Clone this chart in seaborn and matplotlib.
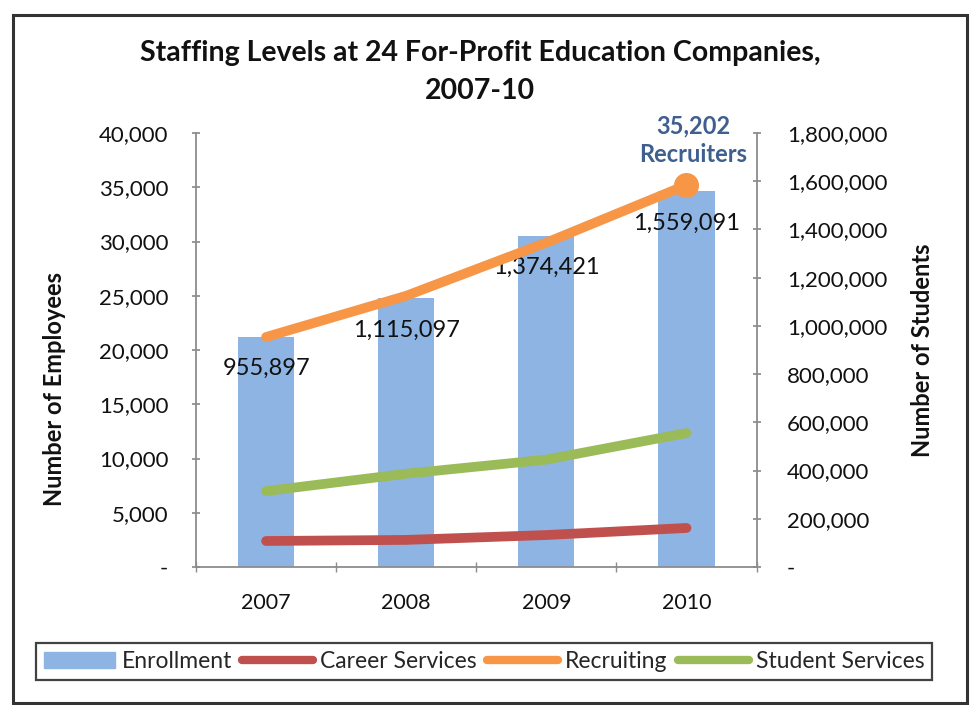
import matplotlib
matplotlib.use("Agg")
import matplotlib.pyplot as plt
import matplotlib.patches as mpatches
from matplotlib.lines import Line2D
from matplotlib.ticker import FuncFormatter, FixedLocator
import seaborn as sns
import pandas as pd
import numpy as np

years = ["2007", "2008", "2009", "2010"]
enrollment = [955897, 1115097, 1374421, 1559091]
career_services = [2400, 2500, 2950, 3600]
recruiting = [21200, 25000, 29900, 35202]
student_services = [7000, 8600, 9900, 12350]

title = "Staffing Levels at 24 For-Profit Education Companies,\n2007-10"

sns.set_theme(style="white")
plt.rcParams['font.family'] = ['Lato', 'DejaVu Sans']

C_BAR = "#8DB4E2"
C_CAR = "#C0504D"
C_REC = "#F79646"
C_STU = "#9BBB59"
C_SPINE = "#8C8C8C"
C_TXT = "#111111"

fig = plt.figure(figsize=(9.8, 7.05), dpi=100)
ax = fig.add_axes([0.2, 0.1957, 0.572, 0.6156])
ax2 = ax.twinx()

df_bar = pd.DataFrame({"year": years, "enrollment": enrollment})
sns.barplot(data=df_bar, x="year", y="enrollment", ax=ax2, color=C_BAR,
            saturation=1, width=0.4, edgecolor="none")

xpos = np.arange(len(years))
for vals, col in [(career_services, C_CAR), (recruiting, C_REC), (student_services, C_STU)]:
    sns.lineplot(x=xpos, y=vals, ax=ax, color=col, linewidth=7,
                 solid_capstyle="round", legend=False)
ax.plot([xpos[-1]], [recruiting[-1]], marker="o", markersize=17, color=C_REC,
        linestyle="none")

ax.set_zorder(ax2.get_zorder() + 1)
ax.patch.set_visible(False)

ax.set_xlim(-0.5, 3.5)
ax.set_ylim(0, 40000)
ax2.set_ylim(0, 1800000)

fmt = FuncFormatter(lambda v, p: "-" if v == 0 else f"{int(v):,}")
ax.yaxis.set_major_locator(FixedLocator(np.arange(0, 40001, 5000)))
ax.yaxis.set_major_formatter(fmt)
ax2.yaxis.set_major_locator(FixedLocator(np.arange(0, 1800001, 200000)))
ax2.yaxis.set_major_formatter(fmt)

ax.set_xticks(xpos)
ax.set_xticklabels(years)
ax.set_xticks([-0.5, 0.5, 1.5, 2.5, 3.5], minor=True)

for a in (ax, ax2):
    a.spines["top"].set_visible(False)
    for s in ("left", "right", "bottom"):
        a.spines[s].set_color(C_SPINE)
        a.spines[s].set_linewidth(1.3)
ax.spines["right"].set_visible(False)
ax2.spines["left"].set_visible(False)
ax2.spines["bottom"].set_visible(False)

ax.tick_params(axis="y", which="major", direction="inout", length=6, color=C_SPINE,
               labelsize=16, pad=17, left=True, labelcolor=C_TXT)
ax.tick_params(axis="x", which="major", length=0, labelsize=15.5, pad=19,
               labelcolor=C_TXT)
ax.tick_params(axis="x", which="minor", direction="inout", length=7, color=C_SPINE,
               bottom=True)
ax2.tick_params(axis="y", direction="inout", length=6, color=C_SPINE,
                labelsize=16, pad=19, right=True, labelcolor=C_TXT)

ax.set_xlabel("")
ax2.set_xlabel("")
ax.set_ylabel("Number of Employees", fontsize=17, fontweight="bold", color=C_TXT)
ax2.set_ylabel("Number of Students", fontsize=17, fontweight="bold", color=C_TXT)
ax.yaxis.set_label_coords(-0.232, 0.41)
ax2.yaxis.set_label_coords(1.275, 0.5)

for i, v in enumerate(enrollment):
    ax2.annotate(f"{v:,}", xy=(i, v), xytext=(0, -23), textcoords="offset points",
                 ha="center", va="center", fontsize=17, color=C_TXT, zorder=10)

ax.annotate("35,202\nRecruiters", xy=(xpos[-1], recruiting[-1]), xytext=(5, 32),
            textcoords="offset points", ha="center", va="center", fontsize=17,
            fontweight="bold", color="#3F5F8F", linespacing=1.3)

fig.text(0.49, 0.898, title, ha="center", va="center", fontsize=20.5,
         fontweight="bold", color=C_TXT, linespacing=1.55)

handles = [mpatches.Patch(color=C_BAR, label="Enrollment"),
           Line2D([], [], color=C_CAR, lw=6, label="Career Services"),
           Line2D([], [], color=C_REC, lw=6, label="Recruiting"),
           Line2D([], [], color=C_STU, lw=6, label="Student Services")]
leg = fig.legend(handles=handles, loc="center", bbox_to_anchor=(484 / 980, 0.0617),
                 ncol=4, fontsize=16.5, frameon=True, fancybox=False,
                 handlelength=3.1, handletextpad=0.3, columnspacing=0.45,
                 borderpad=0.35, borderaxespad=0, handleheight=0.7)
leg.get_frame().set_edgecolor(C_TXT)
leg.get_frame().set_linewidth(1.6)

border = mpatches.Rectangle((13 / 980, 2 / 705), 954 / 980, 688 / 705,
                            transform=fig.transFigure, fill=False,
                            edgecolor="#333333", linewidth=2.2)
fig.patches.append(border)

fig.savefig("out.png", dpi=100)
